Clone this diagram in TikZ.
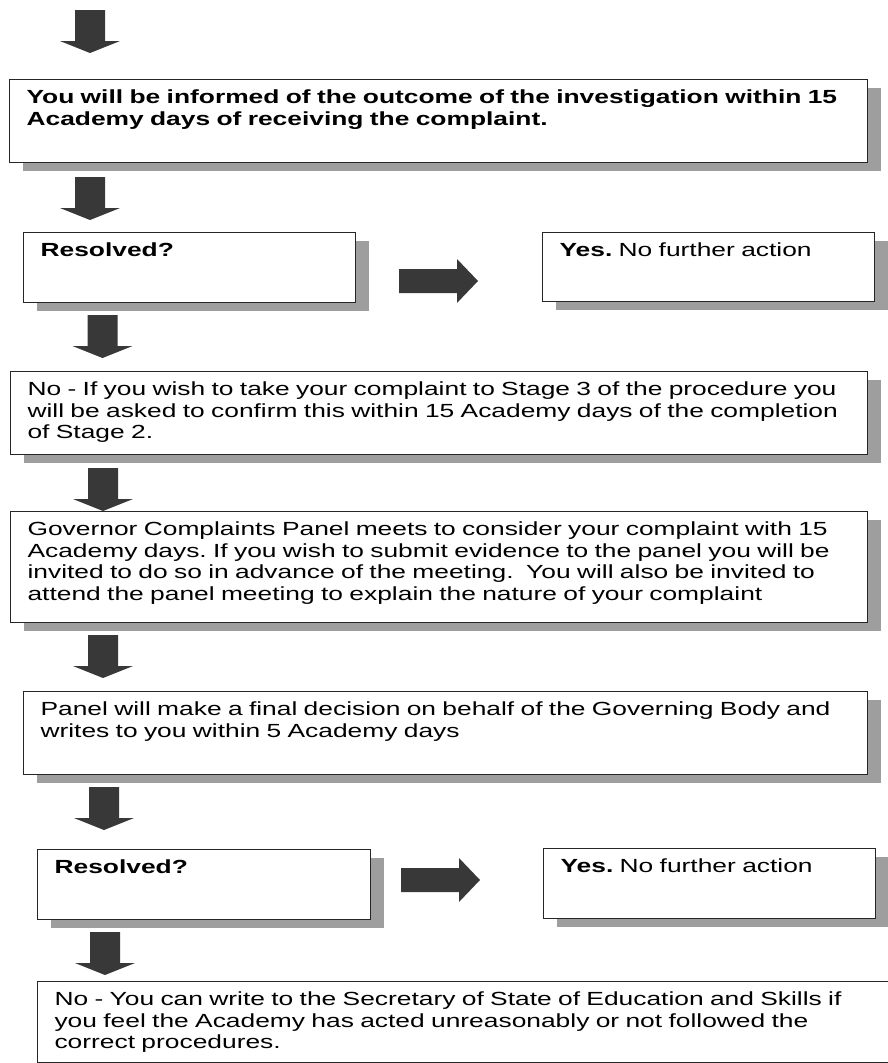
\documentclass[tikz,border=0pt]{standalone}
\usepackage{fontspec}
\setmainfont{Liberation Sans}[FakeStretch=1.388]
\usetikzlibrary{shadows}

\definecolor{arrowgray}{gray}{0.22}
\definecolor{shadowgray}{gray}{0.62}

\tikzset{
	flowbox/.style={draw=black!85, line width=1.1pt, fill=white, anchor=north west,
		inner xsep=17pt, inner ysep=0pt, align=left, text height=24pt,
		font=\fontsize{19pt}{21.5pt}\selectfont\frenchspacing,
		drop shadow={shadow xshift=13pt, shadow yshift=-8pt, fill=shadowgray, opacity=1}},
	downarrow/.pic={\fill[arrowgray] (-15,0) -- (15,0) -- (15,31) -- (30,31) -- (0,43) -- (-30,31) -- (-15,31) -- cycle;},
	rightarrow/.pic={\fill[arrowgray] (0,-12) -- (58,-12) -- (58,-22) -- (79,0) -- (58,22) -- (58,12) -- (0,12) -- cycle;}
}

\begin{document}
\begin{tikzpicture}[x=1pt, y=-1pt]
	\useasboundingbox
		(0,0) rectangle (887,1063);

	\node
		[flowbox, text width=824pt, text depth=59pt] (inform) at (9,79)
		{\bfseries You will be informed of the outcome of the investigation within 15\\
		Academy days of receiving the complaint.};

	\node
		[flowbox, text width=298pt, text depth=46pt] (resolvedA) at (23,232)
		{\bfseries Resolved?};

	\node
		[flowbox, text width=298pt, text depth=45pt] (yesA) at (542,232)
		{\textbf{Yes.} No further action};

	\node
		[flowbox, text width=823pt, text depth=59pt] (stagethree) at (10,371)
		{No - If you wish to take your complaint to Stage 3 of the procedure you\\
		will be asked to confirm this within 15 Academy days of the completion\\
		of Stage 2.};

	\node
		[flowbox, text width=823pt, text depth=87pt] (panelmeets) at (10,511)
		{Governor Complaints Panel meets to consider your complaint with 15\\
		Academy days. If you wish to submit evidence to the panel you will be\\
		invited to do so in advance of the meeting.\ \ You will also be invited to\\
		attend the panel meeting to explain the nature of your complaint};

	\node
		[flowbox, text width=810pt, text depth=59pt] (decision) at (23,691)
		{Panel will make a final decision on behalf of the Governing Body and\\
		writes to you within 5 Academy days};

	\node
		[flowbox, text width=299pt, text depth=46pt] (resolvedB) at (37,849)
		{\bfseries Resolved?};

	\node
		[flowbox, text width=298pt, text depth=46pt] (yesB) at (543,848)
		{\textbf{Yes.} No further action};

	\node
		[flowbox, text width=846pt, text depth=57pt] (secretary) at (37,981)
		{No - You can write to the Secretary of State of Education and Skills if\\
		you feel the Academy has acted unreasonably or not followed the\\
		correct procedures.};

	\foreach \cx/\ty in {90/10, 90/177, 102.5/315, 103/468, 103/635, 104/787, 105/932}
		\pic at (\cx,\ty) {downarrow};

	\pic at (399,281) {rightarrow};
	\pic at (401,880) {rightarrow};
\end{tikzpicture}
\end{document}
